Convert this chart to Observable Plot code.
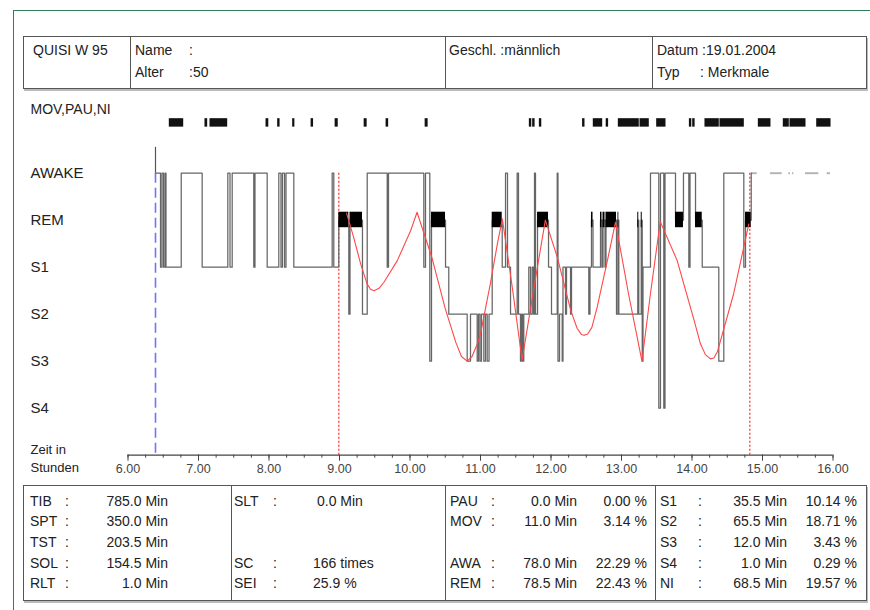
<!DOCTYPE html>
<html><head><meta charset="utf-8">
<script src="https://cdn.jsdelivr.net/npm/d3@7"></script>
<script src="https://cdn.jsdelivr.net/npm/@observablehq/plot@0.6"></script>
<style>
body{margin:0;background:#fff;font-family:"Liberation Sans",Arial,sans-serif;}
#page{position:relative;width:870px;height:610px;overflow:hidden;background:#fff;}
.frame{position:absolute;left:13px;top:10px;width:900px;height:700px;border-left:1px solid #2f8058;border-top:1px solid #2f8058;}
.box{position:absolute;border:1px solid #555;box-shadow:1px 2px 0 #bbb;}
.t{position:absolute;font-size:14px;line-height:16px;color:#222;white-space:pre;}
.vl{position:absolute;width:1px;background:#555;}
#chart{position:absolute;left:0;top:95px;}
</style></head>
<body><div id="page"><div class="frame"></div><div id="chart"></div></div>
<script>
// ---------- data ----------
const stageNames = ["AWAKE","REM","S1","S2","S3","S4"];
const stageLevel = {AWAKE:0, REM:1, S1:2, S2:3, S3:4, S4:5};
const majorTicks = [6,7,8,9,10,11,12,13,14,15,16];
const lightsOff = 6.39;
const sleepMarkers = [8.99, 14.82];

const hypnoTime = [6.390,6.461,6.482,6.504,6.525,6.539,6.755,7.052,7.416,7.447,7.478,7.784,7.801,7.974,8.139,8.170,8.191,8.220,8.241,8.352,8.896,8.919,8.990,9.132,9.149,9.326,9.393,9.677,9.695,10.196,10.220,10.281,10.305,10.504,10.550,10.811,10.858,10.953,10.972,10.993,11.014,11.047,11.071,11.095,11.121,11.166,11.308,11.355,11.383,11.426,11.520,11.539,11.567,11.582,11.596,11.614,11.685,11.709,11.733,11.752,11.766,11.780,11.809,11.965,12.007,12.088,12.099,12.121,12.159,12.170,12.206,12.220,12.277,12.291,12.536,12.553,12.574,12.596,12.702,12.723,12.738,12.766,12.780,12.929,12.950,12.962,13.231,13.245,13.280,13.294,13.305,13.411,13.529,13.553,13.600,13.617,13.766,13.879,13.955,13.972,14.050,14.145,14.380,14.451,14.735,14.759,14.840,14.845];
const hypnoStage = ["AWAKE","S1","AWAKE","S1","AWAKE","S1","AWAKE","S1","AWAKE","S1","AWAKE","S1","AWAKE","S1","AWAKE","S1","AWAKE","S1","AWAKE","S1","AWAKE","S1","REM","S2","REM","S2","AWAKE","S1","AWAKE","S1","AWAKE","S3","REM","S1","S2","S3","S2","S3","S2","S3","S2","S3","S2","S3","S2","REM","S1","AWAKE","S1","S2","AWAKE","S2","S3","S2","S3","S2","S1","S2","S1","S2","AWAKE","S2","REM","S1","S2","AWAKE","S3","S2","S3","S1","S2","S1","S2","S1","S2","S1","REM","S1","REM","S1","REM","S1","REM","S2","REM","S2","REM","S2","REM","S3","S1","AWAKE","S4","AWAKE","S4","AWAKE","REM","AWAKE","S1","AWAKE","REM","S1","S3","AWAKE","S1","REM","AWAKE","AWAKE"];

const cycleTime  = [9.10,9.20,9.30,9.39,9.44,9.49,9.56,9.63,9.82,10.01,10.10,10.31,10.50,10.65,10.73,10.81,10.88,10.95,11.00,11.14,11.24,11.31,11.45,11.59,11.76,11.92,12.09,12.28,12.37,12.43,12.47,12.52,12.58,12.655,12.80,12.915,13.10,13.29,13.41,13.55,13.79,14.03,14.12,14.19,14.26,14.31,14.36,14.59,14.806];
const cycleLevel = [0.85,1.36,1.93,2.35,2.47,2.50,2.45,2.32,1.86,1.22,0.83,1.79,2.88,3.60,3.90,4.00,3.90,3.65,3.42,2.35,1.50,0.97,2.42,3.98,2.42,1.00,1.79,2.92,3.30,3.43,3.45,3.42,3.28,2.85,1.86,1.04,2.57,4.00,2.57,1.03,1.86,3.13,3.63,3.86,3.95,3.93,3.80,2.57,1.08];

const movStart = [6.593,7.099,7.170,7.965,8.130,8.343,8.604,8.945,9.357,9.668,10.222,11.700,11.747,11.842,12.455,12.607,12.790,12.962,13.270,13.506,13.970,14.017,14.191,14.404,14.948,15.302,15.397,15.776];
const movEnd   = [6.783,7.123,7.407,7.990,8.150,8.360,8.625,8.975,9.385,9.690,10.250,11.720,11.767,11.862,12.475,12.726,12.810,13.245,13.387,13.624,13.990,14.037,14.380,14.735,15.113,15.373,15.610,15.965];

const postStart = [14.851,15.113,15.373,15.425,15.610,15.917];
const postEnd   = [14.925,15.279,15.397,15.444,15.799,15.965];

const headerItems = [
  ["QUISI W 95", 33, 0], ["Name", 135, 0], [":", 189, 0], ["Alter", 135, 1], [":50", 189, 1],
  ["Geschl. :männlich", 449, 0], ["Datum :19.01.2004", 657, 0], ["Typ", 657, 1], [": Merkmale", 700, 1]
];
const col1Labels = ["TIB","SPT","TST","SOL","RLT"];
const col1Values = ["785.0 Min","350.0 Min","203.5 Min","154.5 Min","1.0 Min"];
const col2Labels = ["SLT","","","SC","SEI"];
const col2Values = ["0.0 Min","","","166 times","25.9 %"];
const col3Labels = ["PAU","MOV","","AWA","REM"];
const col3Mins   = ["0.0 Min","11.0 Min","","78.0 Min","78.5 Min"];
const col3Pcts   = ["0.00 %","3.14 %","","22.29 %","22.43 %"];
const col4Labels = ["S1","S2","S3","S4","NI"];
const col4Mins   = ["35.5 Min","65.5 Min","12.0 Min","1.0 Min","68.5 Min"];
const col4Pcts   = ["10.14 %","18.71 %","3.43 %","0.29 %","19.57 %"];

// ---------- derived tables ----------
const hypno = hypnoTime.map((t,i) => ({t, lvl: stageLevel[hypnoStage[i]]}));
const remBlocks = [];
hypnoStage.forEach((s,i) => { if (s === "REM" && i+1 < hypnoTime.length) remBlocks.push({t1: hypnoTime[i], t2: hypnoTime[i+1]}); });
const cycle = cycleTime.map((t,i) => ({t, lvl: cycleLevel[i]}));
const mov = movStart.map((s,i) => ({t1: s, t2: movEnd[i]}));
const post = postStart.map((s,i) => ({t1: s, t2: postEnd[i]}));
const minorTicks = d3.range(majorTicks[0], majorTicks[majorTicks.length-1] + 0.001, 0.25);
const leftLabels = stageNames.map((n,i) => ({n, y: i, fs: 15}))
  .concat([{n: "MOV,PAU,NI", y: -1.36, fs: 14}, {n: "Zeit in", y: 5.88, fs: 13}, {n: "Stunden", y: 6.27, fs: 13}]);

// ---------- plot ----------
const px = 1/47;
const chart = Plot.plot({
  width: 870, height: 380,
  marginLeft: 127.5, marginRight: 37.5, marginTop: 7.2, marginBottom: 20.3,
  x: {domain: [6, 16], axis: null},
  y: {domain: [6, -1.5], axis: null},
  style: {fontFamily: "'Liberation Sans', Arial, sans-serif", fontSize: "12.5px", color: "#333", overflow: "visible", background: "transparent"},
  marks: [
    Plot.ruleY([6], {stroke: "#444", strokeWidth: 1.2}),
    Plot.ruleX(minorTicks, {x: d => d, y1: 6, y2: 6 + 3*px, stroke: "#444"}),
    Plot.ruleX(majorTicks, {x: d => d, y1: 6, y2: 6 + 6*px, stroke: "#444"}),
    Plot.text(majorTicks, {x: d => d, y: 6, dy: 14, text: d => d.toFixed(2), fill: "#444"}),
    Plot.text(leftLabels, {x: () => 6, y: "y", text: "n", dx: 30 - 127.5, textAnchor: "start", fontSize: "fs", fill: "#222"}),
    Plot.ruleX([lightsOff], {y1: -0.55, y2: 0, stroke: "#555", strokeWidth: 1.2}),
    Plot.ruleX([lightsOff], {y1: 0, y2: 6, stroke: "#7272ff", strokeWidth: 1.6, strokeDasharray: "10,5"}),
    Plot.ruleX(sleepMarkers, {y1: 0, y2: 6, stroke: "#ff3a3a", strokeWidth: 1.3, strokeDasharray: "2,2"}),
    Plot.rect(mov, {x1: "t1", x2: "t2", y1: -1.16, y2: -0.98, fill: "#111", insetLeft: -0.5, insetRight: -0.5}),
    Plot.ruleY(post, {x1: "t1", x2: "t2", y: 0, stroke: "#b5b5b5", strokeWidth: 2}),
    Plot.line(hypno, {x: "t", y: "lvl", curve: "step-after", stroke: "#666", strokeWidth: 1.25}),
    Plot.rect(remBlocks, {x1: "t1", x2: "t2", y1: 0.83, y2: 1.16, fill: "#000"}),
    Plot.line(cycle, {x: "t", y: "lvl", curve: "linear", stroke: "#ff4848", strokeWidth: 1.1})
  ]
});
document.getElementById("chart").appendChild(chart);

// ---------- header & stats boxes ----------
const page = document.getElementById("page");
function box(l, t, w, h) { const d = document.createElement("div"); d.className = "box"; Object.assign(d.style, {left: l+"px", top: t+"px", width: w+"px", height: h+"px"}); page.appendChild(d); }
function vline(x, t, h) { const d = document.createElement("div"); d.className = "vl"; Object.assign(d.style, {left: x+"px", top: t+"px", height: h+"px"}); page.appendChild(d); }
function txt(s, x, cy, right) {
  if (!s) return;
  const d = document.createElement("span"); d.className = "t"; d.textContent = s;
  d.style.top = (cy - 8) + "px";
  if (right) d.style.right = (870 - x) + "px"; else d.style.left = x + "px";
  page.appendChild(d);
}
box(23, 36, 842, 51);
[130, 445, 652].forEach(x => vline(x, 36, 52));
const headerRows = [50, 72];
headerItems.forEach(([s, x, r]) => txt(s, x, headerRows[r]));

box(23, 485, 842, 114);
[231, 445, 655].forEach(x => vline(x, 485, 115));
const rows = [501, 521, 542, 563, 583];
rows.forEach((cy, i) => {
  txt(col1Labels[i], 30, cy); txt(":", 65, cy); txt(col1Values[i], 168, cy, true);
  if (col2Labels[i]) { txt(col2Labels[i], 234, cy); txt(":", 273, cy); txt(col2Values[i], i === 0 ? 317 : 313, cy); }
  if (col3Labels[i]) { txt(col3Labels[i], 450, cy); txt(":", 491, cy); txt(col3Mins[i], 577, cy, true); txt(col3Pcts[i], 647, cy, true); }
  txt(col4Labels[i], 660, cy); txt(":", 698, cy); txt(col4Mins[i], 787, cy, true); txt(col4Pcts[i], 857, cy, true);
});
</script></body></html>
